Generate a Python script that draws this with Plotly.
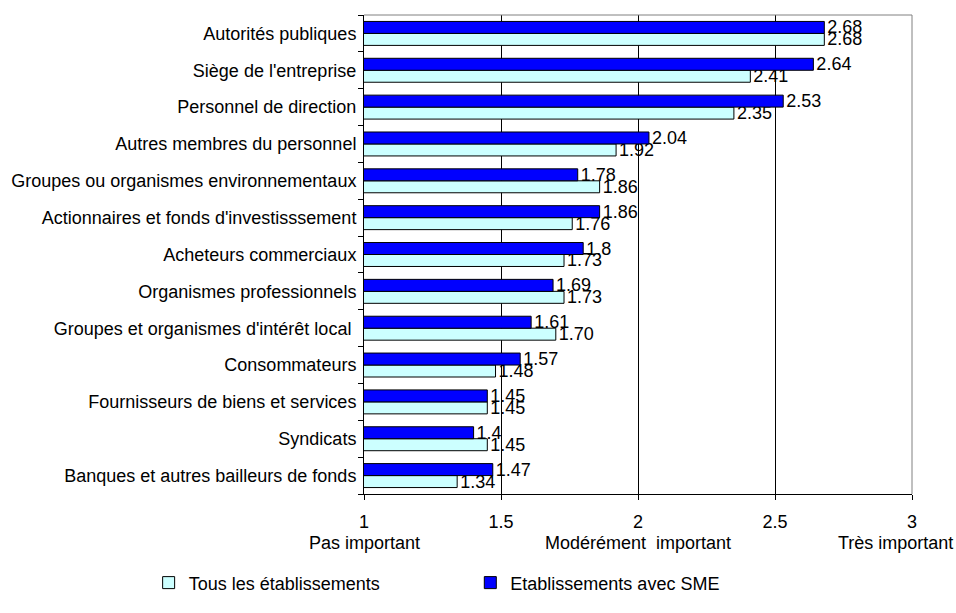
import plotly.graph_objects as go

categories = [
    "Autorités publiques",
    "Siège de l'entreprise",
    "Personnel de direction",
    "Autres membres du personnel",
    "Groupes ou organismes environnementaux",
    "Actionnaires et fonds d'investisssement",
    "Acheteurs commerciaux",
    "Organismes professionnels",
    "Groupes et organismes d'intérêt local\u00a0",
    "Consommateurs",
    "Fournisseurs de biens et services",
    "Syndicats",
    "Banques et autres bailleurs de fonds",
]
tous = [2.68, 2.41, 2.35, 1.92, 1.86, 1.76, 1.73, 1.73, 1.70, 1.48, 1.45, 1.45, 1.34]
sme = [2.68, 2.64, 2.53, 2.04, 1.78, 1.86, 1.80, 1.69, 1.61, 1.57, 1.45, 1.40, 1.47]
sme_text = ["2.68", "2.64", "2.53", "2.04", "1.78", "1.86", "1.8", "1.69", "1.61", "1.57", "1.45", "1.4", "1.47"]

tick_vals = [1, 1.5, 2, 2.5, 3]
tick_text = ["1", "1.5", "2", "2.5", "3"]
scale_labels = ["Pas important", "Modérément  important", "Très important"]

FONT = "Arial, Liberation Sans, sans-serif"

fig = go.Figure()
fig.add_trace(go.Bar(
    y=categories, x=tous, orientation="h",
    name="Tous les établissements",
    marker=dict(color="#CCFFFF", line=dict(color="#000000", width=1)),
    texttemplate="%{x:.2f}", textposition="outside", cliponaxis=False,
    constraintext="none",
    textfont=dict(family=FONT, size=18, color="#000000"),
    legend="legend",
))
fig.add_trace(go.Bar(
    y=categories, x=sme, orientation="h",
    name="Etablissements avec SME",
    marker=dict(color="#0000FF", line=dict(color="#000000", width=1)),
    text=sme_text, textposition="outside", cliponaxis=False,
    constraintext="none",
    textfont=dict(family=FONT, size=18, color="#000000"),
    legend="legend2",
))

fig.update_layout(
    width=956, height=613,
    margin=dict(l=364, r=44, t=15, b=101),
    paper_bgcolor="white", plot_bgcolor="white",
    barmode="group", bargap=0.35, bargroupgap=0,
    font=dict(family=FONT, size=18, color="#000000"),
    xaxis=dict(
        range=[1, 3], tickvals=tick_vals, ticktext=tick_text,
        showgrid=True, gridcolor="#000000", gridwidth=1,
        showline=True, linecolor="#000000", linewidth=1,
        ticks="outside", ticklen=5, tickcolor="#000000",
        ticklabelstandoff=6,
        zeroline=False, fixedrange=True,
        tickfont=dict(family=FONT, size=18, color="#000000"),
    ),
    yaxis=dict(
        categoryorder="array", categoryarray=categories[::-1],
        showline=True, linecolor="#000000", linewidth=1,
        ticks="outside", ticklen=5, tickcolor="#000000",
        tickson="boundaries", showgrid=False,
        ticklabelstandoff=3, fixedrange=True,
        tickfont=dict(family=FONT, size=18, color="#000000"),
    ),
    legend=dict(
        orientation="h", x=-0.393, y=-0.147, xanchor="left", yanchor="top",
        font=dict(family=FONT, size=18, color="#000000"),
        bgcolor="rgba(0,0,0,0)",
    ),
    legend2=dict(
        orientation="h", x=0.194, y=-0.147, xanchor="left", yanchor="top",
        font=dict(family=FONT, size=18, color="#000000"),
        bgcolor="rgba(0,0,0,0)",
    ),
    showlegend=True,
)

# top and right plot border (grey)
fig.add_shape(type="line", xref="x domain", yref="y domain", x0=0, x1=1, y0=1, y1=1,
              line=dict(color="#808080", width=1))
fig.add_shape(type="line", xref="x domain", yref="y domain", x0=1, x1=1, y0=0, y1=1,
              line=dict(color="#808080", width=1))

# scale descriptions under the numeric ticks
ann_font = dict(family=FONT, size=18, color="#000000")
fig.add_annotation(text=scale_labels[0], x=tick_vals[0], xref="x", y=-0.103, yref="paper",
                   xanchor="center", yanchor="middle", showarrow=False, font=ann_font)
fig.add_annotation(text=scale_labels[1], x=tick_vals[2], xref="x", y=-0.103, yref="paper",
                   xanchor="center", yanchor="middle", showarrow=False, font=ann_font)
fig.add_annotation(text=scale_labels[2], x=1.0785, xref="paper", y=-0.103, yref="paper",
                   xanchor="right", yanchor="middle", showarrow=False, font=ann_font)

fig.write_html(
    "out.html",
    config={"displayModeBar": False, "staticPlot": False},
    post_script="document.body.style.margin='0';document.body.style.overflow='hidden';",
)
